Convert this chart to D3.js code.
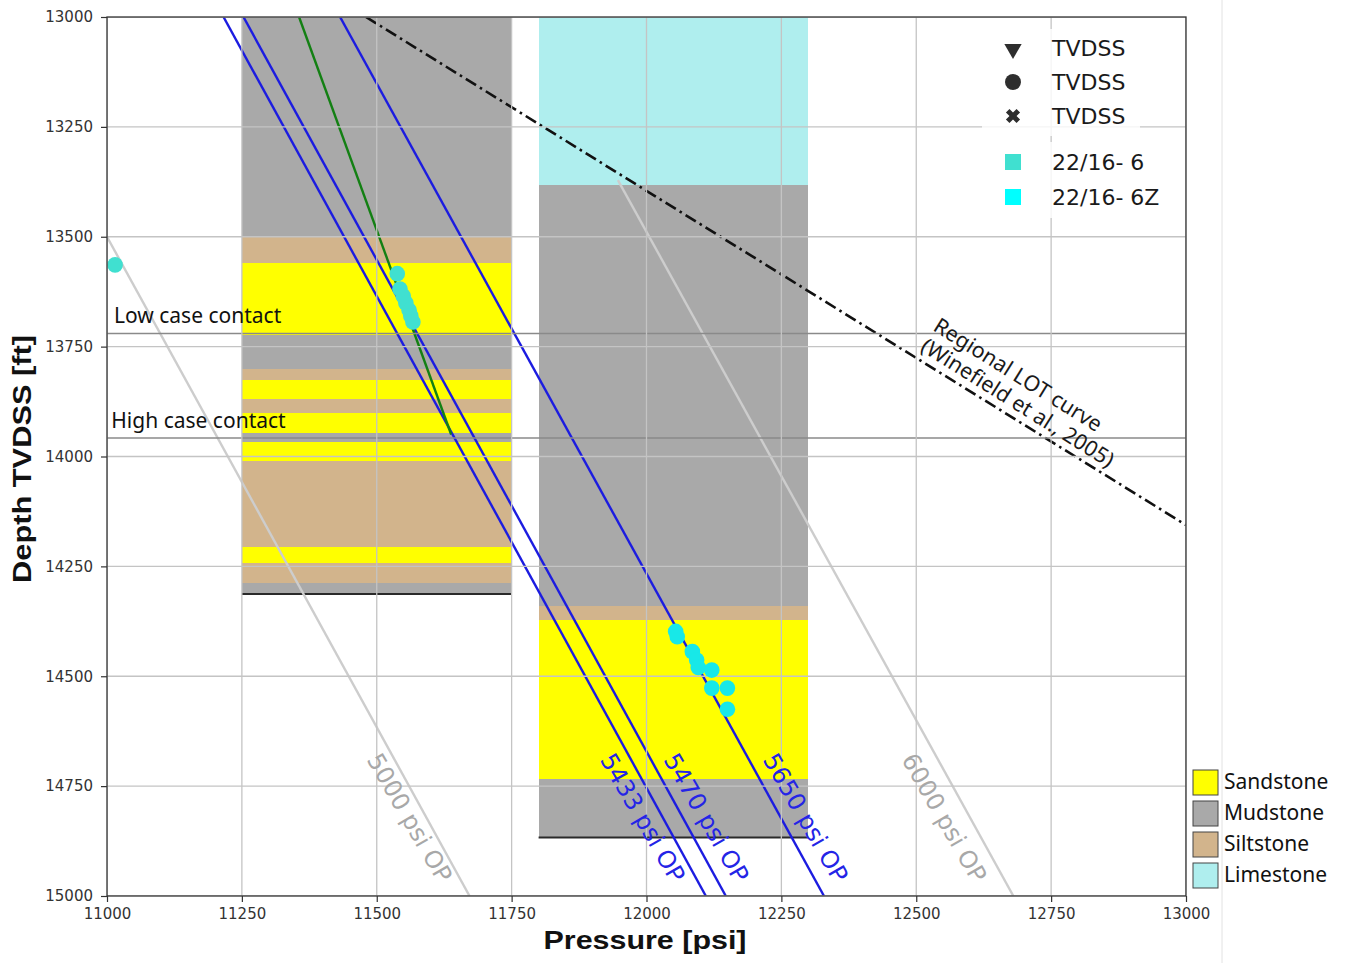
<!DOCTYPE html>
<html>
<head>
<meta charset="utf-8">
<script src="https://cdn.jsdelivr.net/npm/d3@7"></script>
<style>
  html, body { margin: 0; padding: 0; background: #fff; }
  svg { display: block; }
</style>
</head>
<body>
<svg id="chart" width="1350" height="963"></svg>
<script>
// ---- Data ----------------------------------------------------------------
const pressureTicks = [11000, 11250, 11500, 11750, 12000, 12250, 12500, 12750, 13000];
const depthTicks = [13000, 13250, 13500, 13750, 14000, 14250, 14500, 14750, 15000];

// Lithology column 1 (pressure span used as column width)
const column1Span = [11250, 11750];
const column1Top = [13000, 13500, 13560, 13723, 13800, 13825, 13870, 13902, 13947, 13968, 14011, 14205, 14243, 14287];
const column1Base = [13500, 13560, 13723, 13800, 13825, 13870, 13902, 13947, 13968, 14011, 14205, 14243, 14287, 14313];
const column1Lith = ["Mudstone", "Siltstone", "Sandstone", "Mudstone", "Siltstone", "Sandstone", "Siltstone",
                     "Sandstone", "Mudstone", "Sandstone", "Siltstone", "Sandstone", "Siltstone", "Mudstone"];

// Lithology column 2
const column2Span = [11800, 12300];
const column2Top = [13000, 13382, 14340, 14372, 14734];
const column2Base = [13382, 14340, 14372, 14734, 14867];
const column2Lith = ["Limestone", "Mudstone", "Siltstone", "Sandstone", "Mudstone"];

const lithologyNames = ["Sandstone", "Mudstone", "Siltstone", "Limestone"];

// Overpressure lines: top and base points (pressure psi, depth ft)
const opLabels = ["5000 psi OP", "5433 psi OP", "5470 psi OP", "5650 psi OP", "6000 psi OP"];
const opTopPressure = [11000, 11216, 11253, 11432, 11947];
const opTopDepth = [13500, 13000, 13000, 13000, 13371];
const opBasePressure = [11672, 12110, 12147, 12329, 12680];
const opBaseDepth = [15000, 15000, 15000, 15000, 15000];
const opLabelPressure = [11561, 11993, 12111, 12295, 12552];
const opLabelDepth = [14822, 14822, 14822, 14822, 14822];

// Gradient line through well 22/16-6 pressures
const gradPressure = [11356, 11638];
const gradDepth = [13000, 13950];

// Regional LOT curve
const lotPressure = [11480, 13000];
const lotDepth = [13000, 14156];
const lotLabelLines = ["Regional LOT curve", "(Winefield et al., 2005)"];

// Contacts
const contactNames = ["Low case contact", "High case contact"];
const contactDepth = [13720, 13958];

// Pressure measurements
const well6Pressure = [11015, 11538, 11543, 11549, 11554, 11560, 11563, 11567];
const well6Depth = [13564, 13584, 13619, 13635, 13651, 13667, 13680, 13694];
const well6zPressure = [12054, 12057, 12085, 12093, 12096, 12121, 12121, 12150, 12150];
const well6zDepth = [14398, 14410, 14444, 14463, 14480, 14486, 14527, 14527, 14575];

const markerLegend = ["TVDSS", "TVDSS", "TVDSS"];
const wellLegend = ["22/16- 6", "22/16- 6Z"];

// ---- Styles --------------------------------------------------------------
const lithColor = { Sandstone: "#ffff00", Mudstone: "#a9a9a9", Siltstone: "#d2b48c", Limestone: "#afeeee" };
const opColor = ["#cdcdcd", "#1c1ce0", "#1c1ce0", "#1c1ce0", "#cdcdcd"];
const opTextColor = ["#a8a8a8", "#2424e6", "#2424e6", "#2424e6", "#a8a8a8"];

const svg = d3.select("#chart");
svg.append("rect").attr("width", 1350).attr("height", 963).attr("fill", "#fff");

const x = d3.scaleLinear().domain([11000, 13000]).range([107, 1186]);
const y = d3.scaleLinear().domain([13000, 15000]).range([17, 896]);

svg.append("defs").append("clipPath").attr("id", "plotClip")
  .append("rect").attr("x", x(11000)).attr("y", y(13000))
  .attr("width", x(13000) - x(11000)).attr("height", y(15000) - y(13000));

const plot = svg.append("g").attr("clip-path", "url(#plotClip)");

// Lithology columns
function drawColumn(span, tops, bases, liths) {
  const rows = tops.map((t, i) => ({ top: t, base: bases[i], lith: liths[i] }));
  plot.append("g").selectAll("rect").data(rows).join("rect")
    .attr("x", x(span[0])).attr("width", x(span[1]) - x(span[0]))
    .attr("y", d => y(d.top)).attr("height", d => y(d.base) - y(d.top))
    .attr("fill", d => lithColor[d.lith]).attr("shape-rendering", "crispEdges");
  plot.append("line")
    .attr("x1", x(span[0])).attr("x2", x(span[1]))
    .attr("y1", y(bases[bases.length - 1])).attr("y2", y(bases[bases.length - 1]))
    .attr("stroke", "#2a2a2a").attr("stroke-width", 2);
}
drawColumn(column1Span, column1Top, column1Base, column1Lith);
drawColumn(column2Span, column2Top, column2Base, column2Lith);

// Overpressure lines
opLabels.forEach((lab, i) => {
  plot.append("line")
    .attr("x1", x(opTopPressure[i])).attr("y1", y(opTopDepth[i]))
    .attr("x2", x(opBasePressure[i])).attr("y2", y(opBaseDepth[i]))
    .attr("stroke", opColor[i]).attr("stroke-width", 2.4);
});

// Gradient line
plot.append("line")
  .attr("x1", x(gradPressure[0])).attr("y1", y(gradDepth[0]))
  .attr("x2", x(gradPressure[1])).attr("y2", y(gradDepth[1]))
  .attr("stroke", "#138013").attr("stroke-width", 2.4);

// Regional LOT curve
plot.append("line")
  .attr("x1", x(lotPressure[0])).attr("y1", y(lotDepth[0]))
  .attr("x2", x(lotPressure[1])).attr("y2", y(lotDepth[1]))
  .attr("stroke", "#111").attr("stroke-width", 2.6)
  .attr("stroke-dasharray", "12,4.5,2.5,4.5");

// Contact lines
plot.selectAll(".contact").data(contactDepth).join("line")
  .attr("x1", x(11000)).attr("x2", x(13000))
  .attr("y1", d => y(d)).attr("y2", d => y(d))
  .attr("stroke", "#8a8a8a").attr("stroke-width", 1.6);

// Grid
const grid = plot.append("g").attr("stroke", "#c4c4c4").attr("stroke-width", 1.3);
grid.selectAll(".gx").data(pressureTicks).join("line")
  .attr("x1", d => x(d)).attr("x2", d => x(d)).attr("y1", y(13000)).attr("y2", y(15000));
grid.selectAll(".gy").data(depthTicks).join("line")
  .attr("y1", d => y(d)).attr("y2", d => y(d)).attr("x1", x(11000)).attr("x2", x(13000));

// Measurements
plot.append("g").selectAll("circle").data(well6Pressure.map((p, i) => [p, well6Depth[i]])).join("circle")
  .attr("cx", d => x(d[0])).attr("cy", d => y(d[1])).attr("r", 7.8).attr("fill", "#40e0d0");
plot.append("g").selectAll("circle").data(well6zPressure.map((p, i) => [p, well6zDepth[i]])).join("circle")
  .attr("cx", d => x(d[0])).attr("cy", d => y(d[1])).attr("r", 7.8).attr("fill", "#18e8e8");

// OP labels
opLabels.forEach((lab, i) => {
  plot.append("text")
    .attr("transform", `translate(${x(opLabelPressure[i])},${y(opLabelDepth[i])}) rotate(60)`)
    .attr("text-anchor", "middle").attr("dy", "0.35em")
    .attr("font-family", "DejaVu Sans").attr("font-size", 24)
    .attr("fill", opTextColor[i]).text(lab);
});

// LOT label (left-aligned, rotated along the curve)
const lotLabel = plot.append("text")
  .attr("transform", `translate(932,329.7) rotate(32)`)
  .attr("text-anchor", "start")
  .attr("font-family", "Noto Sans").attr("font-size", 21.5).attr("fill", "#1a1a1a");
lotLabelLines.forEach((t, i) => lotLabel.append("tspan").attr("x", 0).attr("y", i * 24).text(t));

// Contact labels
const contactLabelX = [11013, 11008];
contactNames.forEach((n, i) => {
  plot.append("text").attr("x", x(contactLabelX[i])).attr("y", y(contactDepth[i]) - 10)
    .attr("font-family", "Noto Sans").attr("font-size", 21).attr("fill", "#111").text(n);
});

// Frame
svg.append("rect").attr("x", x(11000)).attr("y", y(13000))
  .attr("width", x(13000) - x(11000)).attr("height", y(15000) - y(13000))
  .attr("fill", "none").attr("stroke", "#333").attr("stroke-width", 1.3);

// Axes
const xAxis = svg.append("g").attr("transform", `translate(0,${y(15000)})`)
  .call(d3.axisBottom(x).tickValues(pressureTicks).tickFormat(d3.format("d")).tickSize(6).tickPadding(6));
const yAxis = svg.append("g").attr("transform", `translate(${x(11000)},0)`)
  .call(d3.axisLeft(y).tickValues(depthTicks).tickFormat(d3.format("d")).tickSize(6).tickPadding(8));
[xAxis, yAxis].forEach(a => {
  a.select(".domain").remove();
  a.selectAll(".tick line").attr("stroke", "#333").attr("stroke-width", 1.2);
  a.selectAll(".tick text").attr("font-family", "DejaVu Sans").attr("font-size", 15).attr("fill", "#333");
});

svg.append("text").attr("x", 645).attr("y", 949).attr("text-anchor", "middle")
  .attr("font-family", "Liberation Sans").attr("font-weight", "bold").attr("font-size", 26)
  .attr("textLength", 203).attr("lengthAdjust", "spacingAndGlyphs").attr("fill", "#111")
  .text("Pressure [psi]");
svg.append("text").attr("transform", "translate(31,459) rotate(-90)").attr("text-anchor", "middle")
  .attr("font-family", "Liberation Sans").attr("font-weight", "bold").attr("font-size", 26)
  .attr("textLength", 248).attr("lengthAdjust", "spacingAndGlyphs").attr("fill", "#111")
  .text("Depth TVDSS [ft]");

// Marker / well legend
svg.append("rect").attr("x", 982).attr("y", 29).attr("width", 158).attr("height", 107)
  .attr("fill", "#fff").attr("fill-opacity", 0.82);
svg.append("rect").attr("x", 990).attr("y", 142).attr("width", 186).attr("height", 76)
  .attr("fill", "#fff").attr("fill-opacity", 0.82);

const markerShapes = [
  d3.symbol().type(d3.symbolTriangle).size(130)(),
  d3.symbol().type(d3.symbolCircle).size(200)(),
  d3.symbol().type(d3.symbolCross).size(125)()
];
const markerRot = [180, 0, 45];
const markerRowY = [48, 82, 116];
markerLegend.forEach((t, i) => {
  svg.append("path").attr("d", markerShapes[i])
    .attr("transform", `translate(1013,${markerRowY[i] + (i === 0 ? 1 : 0)}) rotate(${markerRot[i]})`)
    .attr("fill", "#2e2e2e");
  svg.append("text").attr("x", 1052).attr("y", markerRowY[i] + 8)
    .attr("font-family", "DejaVu Sans").attr("font-size", 22).attr("fill", "#1a1a1a").text(t);
});
const wellColors = ["#40e0d0", "#00ffff"];
const wellRowY = [162, 197];
wellLegend.forEach((t, i) => {
  svg.append("rect").attr("x", 1005).attr("y", wellRowY[i] - 8).attr("width", 16).attr("height", 16)
    .attr("fill", wellColors[i]);
  svg.append("text").attr("x", 1052).attr("y", wellRowY[i] + 8)
    .attr("font-family", "DejaVu Sans").attr("font-size", 22).attr("fill", "#1a1a1a").text(t);
});

// Lithology legend
svg.append("line").attr("x1", 1222).attr("x2", 1222).attr("y1", 0).attr("y2", 963)
  .attr("stroke", "#e2e2e2").attr("stroke-width", 1);
const lithRowY = [770, 801, 832, 863];
lithologyNames.forEach((n, i) => {
  svg.append("rect").attr("x", 1193).attr("y", lithRowY[i]).attr("width", 25).attr("height", 25)
    .attr("fill", lithColor[n]).attr("stroke", "#444").attr("stroke-width", 1);
  svg.append("text").attr("x", 1224).attr("y", lithRowY[i] + 19)
    .attr("font-family", "Noto Sans").attr("font-size", 21).attr("fill", "#111").text(n);
});
</script>
</body>
</html>
